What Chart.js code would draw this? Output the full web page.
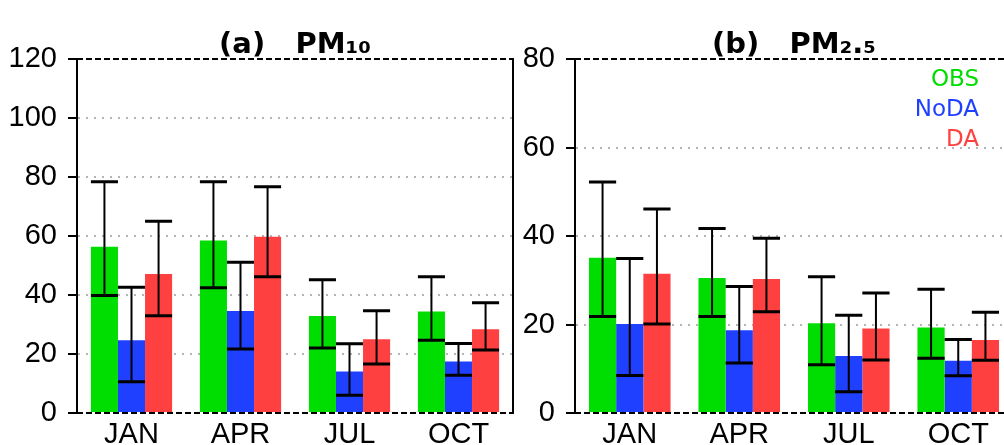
<!DOCTYPE html>
<html><head><meta charset="utf-8">
<script src="https://cdn.jsdelivr.net/npm/chart.js@4.4.0/dist/chart.umd.min.js"></script>
<style>
html,body{margin:0;padding:0;background:#fff;overflow:hidden;width:1004px;height:445px}
#wa{position:absolute;left:0;top:0;width:520px;height:445px}
#wb{position:absolute;left:513px;top:0;width:500px;height:445px}
</style></head><body>
<div id="wa"><canvas id="ca" width="520" height="445"></canvas></div>
<div id="wb"><canvas id="cb" width="500" height="445"></canvas></div>
<script>
const categories = ['JAN', 'APR', 'JUL', 'OCT'];
const seriesNames = ['OBS', 'NoDA', 'DA'];
const seriesColors = ['#00dd00', '#2040ff', '#ff4040'];

// (a) PM10 : bar values and error-bar lower/upper bounds
const pm10Obs      = [56.4, 58.5, 32.9, 34.4];
const pm10ObsLow   = [39.8, 42.5, 22.0, 24.7];
const pm10ObsHigh  = [78.4, 78.4, 45.2, 46.2];
const pm10NoDA     = [24.7, 34.6, 14.1, 17.5];
const pm10NoDALow  = [10.6, 21.7, 6.0, 12.8];
const pm10NoDAHigh = [42.6, 51.1, 23.5, 23.6];
const pm10DA       = [47.1, 59.8, 25.0, 28.4];
const pm10DALow    = [33.0, 46.2, 16.6, 21.4];
const pm10DAHigh   = [65.0, 76.7, 34.7, 37.4];

// (b) PM2.5
const pm25Obs      = [35.1, 30.5, 20.3, 19.3];
const pm25ObsLow   = [21.8, 21.8, 10.9, 12.4];
const pm25ObsHigh  = [52.2, 41.7, 30.8, 28.0];
const pm25NoDA     = [20.1, 18.7, 12.9, 11.8];
const pm25NoDALow  = [8.5, 11.3, 4.8, 8.4];
const pm25NoDAHigh = [34.9, 28.6, 22.1, 16.6];
const pm25DA       = [31.5, 30.3, 19.1, 16.5];
const pm25DALow    = [20.1, 22.9, 12.0, 11.9];
const pm25DAHigh   = [46.1, 39.5, 27.1, 22.8];

const pm10AxisMax = 120, pm25AxisMax = 80, axisStep = 20;
const titleA = '(a)   PM\u2081\u2080';
const titleB = '(b)   PM\u2082.\u2085';

const errorBarPlugin = {
  id: 'errorBars',
  afterDatasetsDraw(chart) {
    const ctx = chart.ctx;
    const ys = chart.scales.y;
    ctx.save();
    ctx.strokeStyle = '#000';
    chart.data.datasets.forEach((ds, di) => {
      const meta = chart.getDatasetMeta(di);
      meta.data.forEach((el, i) => {
        const x = el.x, w = el.width;
        const yl = ys.getPixelForValue(ds.errLow[i]);
        const yh = ys.getPixelForValue(ds.errHigh[i]);
        ctx.lineWidth = 2;
        ctx.beginPath(); ctx.moveTo(x, yl); ctx.lineTo(x, yh); ctx.stroke();
        ctx.lineWidth = 3;
        ctx.beginPath();
        ctx.moveTo(x - w / 2, yl); ctx.lineTo(x + w / 2, yl);
        ctx.moveTo(x - w / 2, yh); ctx.lineTo(x + w / 2, yh);
        ctx.stroke();
      });
    });
    ctx.restore();
  }
};

const framePlugin = {
  id: 'frame',
  afterDatasetsDraw(chart) {
    const {ctx, chartArea: a} = chart;
    ctx.save();
    ctx.strokeStyle = '#000';
    ctx.lineWidth = 2;
    ctx.setLineDash([6, 3]);
    ctx.beginPath();
    ctx.moveTo(a.left, a.top); ctx.lineTo(a.right, a.top);
    ctx.moveTo(a.left, a.bottom); ctx.lineTo(a.right, a.bottom);
    ctx.stroke();
    ctx.setLineDash([]);
    ctx.beginPath();
    ctx.moveTo(a.right, a.top - 1); ctx.lineTo(a.right, a.bottom + 1);
    ctx.stroke();
    ctx.restore();
  }
};

const legendPlugin = {
  id: 'textLegend',
  afterDraw(chart, args, opts) {
    if (!opts.show) return;
    const {ctx, chartArea: a} = chart;
    ctx.save();
    ctx.font = '23px "DejaVu Sans"';
    ctx.textAlign = 'right';
    ctx.textBaseline = 'middle';
    seriesNames.forEach((n, i) => {
      ctx.fillStyle = seriesColors[i];
      ctx.fillText(n, a.right - 34, a.top + 21 + i * 30);
    });
    ctx.restore();
  }
};

function makeChart(id, title, vals, lows, highs, axisMax, yWidth, showLegend) {
  return new Chart(document.getElementById(id), {
    type: 'bar',
    data: {
      labels: categories,
      datasets: seriesNames.map((n, i) => ({
        label: n,
        data: vals[i],
        errLow: lows[i],
        errHigh: highs[i],
        backgroundColor: seriesColors[i],
        borderWidth: 0,
        categoryPercentage: 0.745,
        barPercentage: 1.0
      }))
    },
    options: {
      responsive: false,
      animation: false,
      events: [],
      layout: {padding: {left: 0, right: id === 'ca' ? 7 : 0, top: 0, bottom: 0}},
      plugins: {
        legend: {display: false},
        tooltip: {enabled: false},
        title: {
          display: true, text: title, color: '#000', fullSize: false,
          font: {family: '"DejaVu Sans"', size: 29, weight: 'bold', lineHeight: 0.9},
          padding: {top: 32.75, bottom: 0.25}
        },
        textLegend: {show: showLegend}
      },
      scales: {
        x: {
          grid: {display: false, drawTicks: false},
          border: {display: false},
          ticks: {color: '#000', padding: 5, font: {family: '"Liberation Sans"', size: 29}},
          afterFit: s => { s.height = 32; }
        },
        y: {
          min: 0, max: axisMax,
          ticks: {stepSize: axisStep, color: '#000', padding: 11,
                  font: {family: '"Liberation Sans"', size: 29}},
          grid: {
            color: c => (c.tick && (c.tick.value === 0 || c.tick.value === axisMax)) ? 'rgba(0,0,0,0)' : '#b4b4b4',
            lineWidth: 2,
            tickColor: '#000', tickLength: 9, tickWidth: 2
          },
          border: {display: true, color: '#000', width: 2, dash: [2, 6]},
          afterFit: s => { s.width = yWidth; }
        }
      }
    },
    plugins: [errorBarPlugin, framePlugin, legendPlugin]
  });
}

makeChart('ca', titleA,
  [pm10Obs, pm10NoDA, pm10DA], [pm10ObsLow, pm10NoDALow, pm10DALow], [pm10ObsHigh, pm10NoDAHigh, pm10DAHigh],
  pm10AxisMax, 77, false);
makeChart('cb', titleB,
  [pm25Obs, pm25NoDA, pm25DA], [pm25ObsLow, pm25NoDALow, pm25DALow], [pm25ObsHigh, pm25NoDAHigh, pm25DAHigh],
  pm25AxisMax, 62, true);
</script>
</body></html>
